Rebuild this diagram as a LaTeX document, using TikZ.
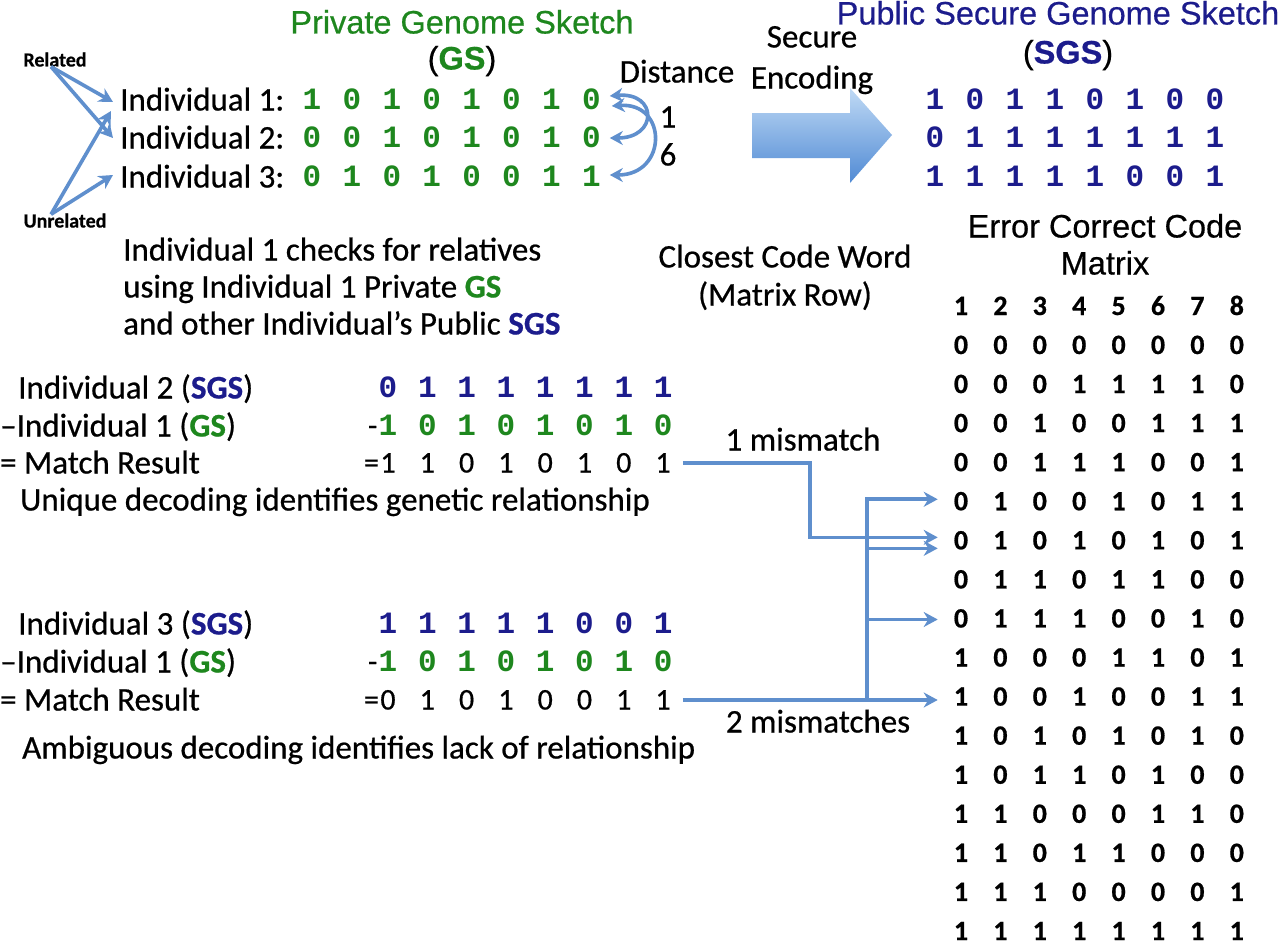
\documentclass[tikz,border=0pt]{standalone}
\usepackage{fontspec}
\setmainfont{Carlito}[FakeBold=0.6]
\newfontfamily\arialf{Liberation Sans}[FakeBold=0.5]
\newfontfamily\monof{Liberation Mono}
\usetikzlibrary{arrows.meta}
\definecolor{gsgreen}{RGB}{30,135,30}
\definecolor{sgsblue}{RGB}{28,28,140}
\definecolor{arrowblue}{RGB}{95,143,205}
\definecolor{arrowlight}{RGB}{192,218,245}
\definecolor{arrowdark}{RGB}{80,138,212}
\begin{document}
\begin{tikzpicture}[x=1pt,y=-1pt,
  cal/.style={font=\fontsize{33}{36}\selectfont, inner sep=0pt, text height=21pt, text depth=0pt},
  ari/.style={font=\arialf\fontsize{32.5}{36}\selectfont, inner sep=0pt, text height=23pt, text depth=0pt},
  smalllab/.style={font=\bfseries\fontsize{20}{22}\selectfont, inner sep=0pt, text height=13pt, text depth=0pt},
  gdig/.style={font=\monof\bfseries\fontsize{31}{34}\selectfont, text=gsgreen, inner sep=0pt, text height=18pt, text depth=0pt},
  bdig/.style={gdig, text=sgsblue},
  mdig/.style={font=\bfseries\fontsize{28}{30}\selectfont, inner sep=0pt, text height=18pt, text depth=0pt},
  rdig/.style={font=\fontsize{30}{32}\selectfont, inner sep=0pt, text height=19pt, text depth=0pt},
  wire/.style={draw=arrowblue, line width=3.6pt},
  conn/.style={wire, -{Stealth[length=14pt,width=15pt]}},
  conn2/.style={wire, {Stealth[length=13pt,width=14pt]}-{Stealth[length=13pt,width=14pt]}}
]
\fill[white] (0,0) rectangle (1280,950);
\useasboundingbox (0,0) rectangle (1280,950);

% titles
\node[ari, text=gsgreen] (pgs) at (462,22) {Private Genome Sketch};
\node[ari] (pgs2) at (462,58) {(\textcolor{gsgreen}{\bfseries GS})};
\node[ari, text=sgsblue] (psgs) at (1058,13) {Public Secure Genome Sketch};
\node[ari] (psgs2) at (1068,52) {(\textcolor{sgsblue}{\bfseries SGS})};
\node[cal] (sec) at (812,37) {Secure};
\node[cal] (enc) at (812,78) {Encoding};
\node[cal] (dist) at (677,72) {Distance};
\node[cal] (d1) at (668,117) {1};
\node[cal] (d6) at (668,155) {6};
\node[smalllab] (rel) at (55,60) {Related};
\node[smalllab] (unrel) at (65,221) {Unrelated};

% individuals
\node[cal, anchor=west] (ind1) at (120,100) {Individual 1:};
\node[cal, anchor=west] (ind2) at (120,138) {Individual 2:};
\node[cal, anchor=west] (ind3) at (120,177) {Individual 3:};

\foreach \r/\yy/\bits in {1/100/{1,0,1,0,1,0,1,0},2/138/{0,0,1,0,1,0,1,0},3/177/{0,1,0,1,0,0,1,1}}{
  \foreach \b [count=\j] in \bits {
    \node[gdig] (g\r-\j) at ({312+39.9*(\j-1)},\yy) {\b};
  }
}
\foreach \r/\yy/\bits in {1/100/{1,0,1,1,0,1,0,0},2/138/{0,1,1,1,1,1,1,1},3/177/{1,1,1,1,1,0,0,1}}{
  \foreach \b [count=\j] in \bits {
    \node[bdig] (s\r-\j) at ({935+40*(\j-1)},\yy) {\b};
  }
}

% related / unrelated arrows
\draw[conn] ([xshift=-4pt]rel.south) -- ([xshift=-7pt,yshift=-2pt]ind1.west);
\draw[conn] ([xshift=-4pt]rel.south) -- ([xshift=-7pt]ind2.west);
\draw[conn] ([xshift=-14pt]unrel.north) -- ([xshift=-9pt,yshift=-11pt]ind1.west);
\draw[conn] ([xshift=-14pt]unrel.north) -- ([xshift=-7pt,yshift=2pt]ind3.west);

% distance arcs
\draw[conn2] ([xshift=9pt,yshift=4pt]g1-8.east) .. controls +(48,-4) and +(48,0) .. ([xshift=9pt]g2-8.east);
\draw[conn2] ([xshift=11pt,yshift=-6pt]g1-8.east) .. controls +(56,-4) and +(58,0) .. ([xshift=9pt,yshift=2pt]g3-8.east);

% block arrow
\shade[top color=arrowlight, bottom color=arrowdark]
  (752,113) -- (850,113) -- (850,88) -- (892,135) -- (850,183) -- (850,158) -- (752,158) -- cycle;

% explanation
\node[cal, anchor=west] (chk1) at (123,250) {Individual 1 checks for relatives};
\node[cal, anchor=west] (chk2) at (123,287) {using Individual 1 Private \textcolor{gsgreen}{\bfseries GS}};
\node[cal, anchor=west] (chk3) at (123,324) {and other Individual’s Public \textcolor{sgsblue}{\bfseries SGS}};
\node[cal] (ccw1) at (785,257) {Closest Code Word};
\node[cal] (ccw2) at (785,295) {(Matrix Row)};
\node[ari] (ecc1) at (1105,226) {Error Correct Code};
\node[ari] (ecc2) at (1105,263) {Matrix};

% matrix
\foreach \j in {1,...,8} {
  \node[mdig] (h\j) at ({961+39.4*(\j-1)},306) {\j};
}
\foreach \bits [count=\i] in {
  {0,0,0,0,0,0,0,0},{0,0,0,1,1,1,1,0},{0,0,1,0,0,1,1,1},{0,0,1,1,1,0,0,1},
  {0,1,0,0,1,0,1,1},{0,1,0,1,0,1,0,1},{0,1,1,0,1,1,0,0},{0,1,1,1,0,0,1,0},
  {1,0,0,0,1,1,0,1},{1,0,0,1,0,0,1,1},{1,0,1,0,1,0,1,0},{1,0,1,1,0,1,0,0},
  {1,1,0,0,0,1,1,0},{1,1,0,1,1,0,0,0},{1,1,1,0,0,0,0,1},{1,1,1,1,1,1,1,1}} {
  \foreach \b [count=\j] in \bits {
    \node[mdig] (r\i-\j) at ({961+39.4*(\j-1)},{345+39.07*(\i-1)}) {\b};
  }
}

% comparison block 1
\node[cal, anchor=west] (c1a) at (18,388) {Individual 2 (\textcolor{sgsblue}{\bfseries SGS})};
\node[cal, anchor=west] (c1b) at (0,426) {–Individual 1 (\textcolor{gsgreen}{\bfseries GS})};
\node[cal, anchor=west] (c1c) at (0,463) {= Match Result};
\node[cal, anchor=west] (c1d) at (20,500) {Unique decoding identifies genetic relationship};
\foreach \b [count=\j] in {0,1,1,1,1,1,1,1} { \node[bdig] (a1-\j) at ({388+39.3*(\j-1)},388) {\b}; }
\foreach \b [count=\j] in {1,0,1,0,1,0,1,0} { \node[gdig] (b1-\j) at ({388+39.3*(\j-1)},426) {\b}; }
\foreach \b [count=\j] in {1,1,0,1,0,1,0,1} { \node[rdig] (m1-\j) at ({388+39.3*(\j-1)},463) {\b}; }
\node[rdig, anchor=east] (mi1) at ([xshift=-1pt]b1-1.west) {-};
\node[rdig, anchor=east] (eq1) at ([xshift=-1pt]m1-1.west) {=};

% comparison block 2
\node[cal, anchor=west] (c2a) at (18,624) {Individual 3 (\textcolor{sgsblue}{\bfseries SGS})};
\node[cal, anchor=west] (c2b) at (0,662) {–Individual 1 (\textcolor{gsgreen}{\bfseries GS})};
\node[cal, anchor=west] (c2c) at (0,700) {= Match Result};
\node[cal, anchor=west] (c2d) at (22,748) {Ambiguous decoding identifies lack of relationship};
\foreach \b [count=\j] in {1,1,1,1,1,0,0,1} { \node[bdig] (a2-\j) at ({388+39.3*(\j-1)},624) {\b}; }
\foreach \b [count=\j] in {1,0,1,0,1,0,1,0} { \node[gdig] (b2-\j) at ({388+39.3*(\j-1)},662) {\b}; }
\foreach \b [count=\j] in {0,1,0,1,0,0,1,1} { \node[rdig] (m2-\j) at ({388+39.3*(\j-1)},700) {\b}; }
\node[rdig, anchor=east] (mi2) at ([xshift=-1pt]b2-1.west) {-};
\node[rdig, anchor=east] (eq2) at ([xshift=-1pt]m2-1.west) {=};

% mismatch labels
\node[cal] (mm1) at (803,440) {1 mismatch};
\node[cal] (mm2) at (818,722) {2 mismatches};

% connectors to matrix rows
\coordinate (bx) at (810,0);
\coordinate (tr) at (867,0);
\coordinate (t5) at ([xshift=-16pt,yshift=2pt]r5-1.west);
\coordinate (t6a) at ([xshift=-16pt,yshift=3pt]r6-1.west);
\coordinate (t6b) at ([xshift=-16pt,yshift=-8pt]r6-1.west);
\coordinate (t8) at ([xshift=-16pt,yshift=-1pt]r8-1.west);
\path (m2-8.east -| r10-1.west) coordinate (t10p);
\coordinate (t10) at ([xshift=-16pt]t10p);

\draw[conn] ([xshift=12pt]m1-8.east) -| (bx |- t6a) -- (t6a);
\draw[conn] ([xshift=12pt]m2-8.east) -- (t10);
\draw[wire] (tr |- t10) -- ([yshift=1.8pt]tr |- t5);
\draw[conn] (tr |- t5) -- (t5);
\draw[conn] (tr |- t6b) -- (t6b);
\draw[conn] (tr |- t8) -- (t8);
\end{tikzpicture}
\end{document}
